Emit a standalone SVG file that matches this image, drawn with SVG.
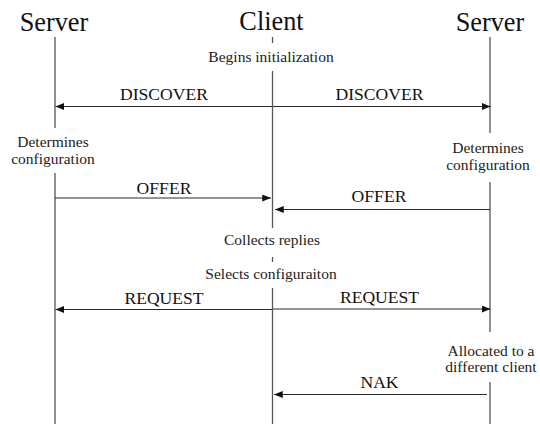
<svg xmlns="http://www.w3.org/2000/svg" width="540" height="424" viewBox="0 0 540 424">
<style>
text{font-family:"Liberation Serif",serif;text-anchor:middle}
.title{font-size:26.3px;fill:#111}
.note{font-size:15.5px;fill:#222}
.msg{font-size:17.6px;fill:#111}
.life{stroke:#5e5252;stroke-width:1.3;fill:none}
.arrow{stroke:#2a2a2a;stroke-width:1.1;fill:none;marker-end:url(#ah)}
</style>
<defs>
<marker id="ah" viewBox="0 0 10 8" refX="10" refY="4" markerWidth="9" markerHeight="7" markerUnits="userSpaceOnUse" orient="auto">
<path d="M0,0 L10,4 L0,8 Z" fill="#111"/>
</marker>
</defs>
<rect width="540" height="424" fill="#fff"/>
<g id="server-left">
<text class="title" x="54" y="30.5">Server</text>
<line class="life" x1="55" y1="37" x2="55" y2="128"/>
<text class="note" x="53" y="147">Determines</text>
<text class="note" x="53" y="164">configuration</text>
<line class="life" x1="55" y1="173" x2="55" y2="424"/>
</g>
<g id="client">
<text class="title" x="271.5" y="30">Client</text>
<line class="life" x1="272.5" y1="37" x2="272.5" y2="43"/>
<text class="note" x="271" y="62">Begins initialization</text>
<line class="life" x1="272.5" y1="71" x2="272.5" y2="228"/>
<text class="note" x="272" y="245">Collects replies</text>
<line class="life" x1="272.5" y1="257" x2="272.5" y2="262"/>
<text class="note" x="271" y="279">Selects configuraiton</text>
<line class="life" x1="272.5" y1="288" x2="272.5" y2="424"/>
</g>
<g id="server-right">
<text class="title" x="490" y="30.5">Server</text>
<line class="life" x1="490" y1="37" x2="490" y2="133"/>
<text class="note" x="488" y="153">Determines</text>
<text class="note" x="488" y="170">configuration</text>
<line class="life" x1="490" y1="182" x2="490" y2="332"/>
<text class="note" x="491" y="356">Allocated to a</text>
<text class="note" x="491" y="372">different client</text>
<line class="life" x1="490" y1="382" x2="490" y2="424"/>
</g>
<g id="connectors">
<line class="arrow" x1="272" y1="106.5" x2="55.5" y2="106.5"/>
<text class="msg" x="164" y="100">DISCOVER</text>
<line class="arrow" x1="273" y1="106.5" x2="490.5" y2="106.5"/>
<text class="msg" x="379.5" y="100">DISCOVER</text>
<line class="arrow" x1="55" y1="198" x2="271" y2="198"/>
<text class="msg" x="164" y="194">OFFER</text>
<line class="arrow" x1="490" y1="209.5" x2="275" y2="209.5"/>
<text class="msg" x="379" y="201.5">OFFER</text>
<line class="arrow" x1="272" y1="309.5" x2="55.5" y2="309.5"/>
<text class="msg" x="164" y="303.5">REQUEST</text>
<line class="arrow" x1="273" y1="309" x2="490.5" y2="309"/>
<text class="msg" x="379.5" y="303">REQUEST</text>
<line class="arrow" x1="487" y1="394.5" x2="274" y2="394.5"/>
<text class="msg" x="379.5" y="388">NAK</text>
</g>
</svg>
